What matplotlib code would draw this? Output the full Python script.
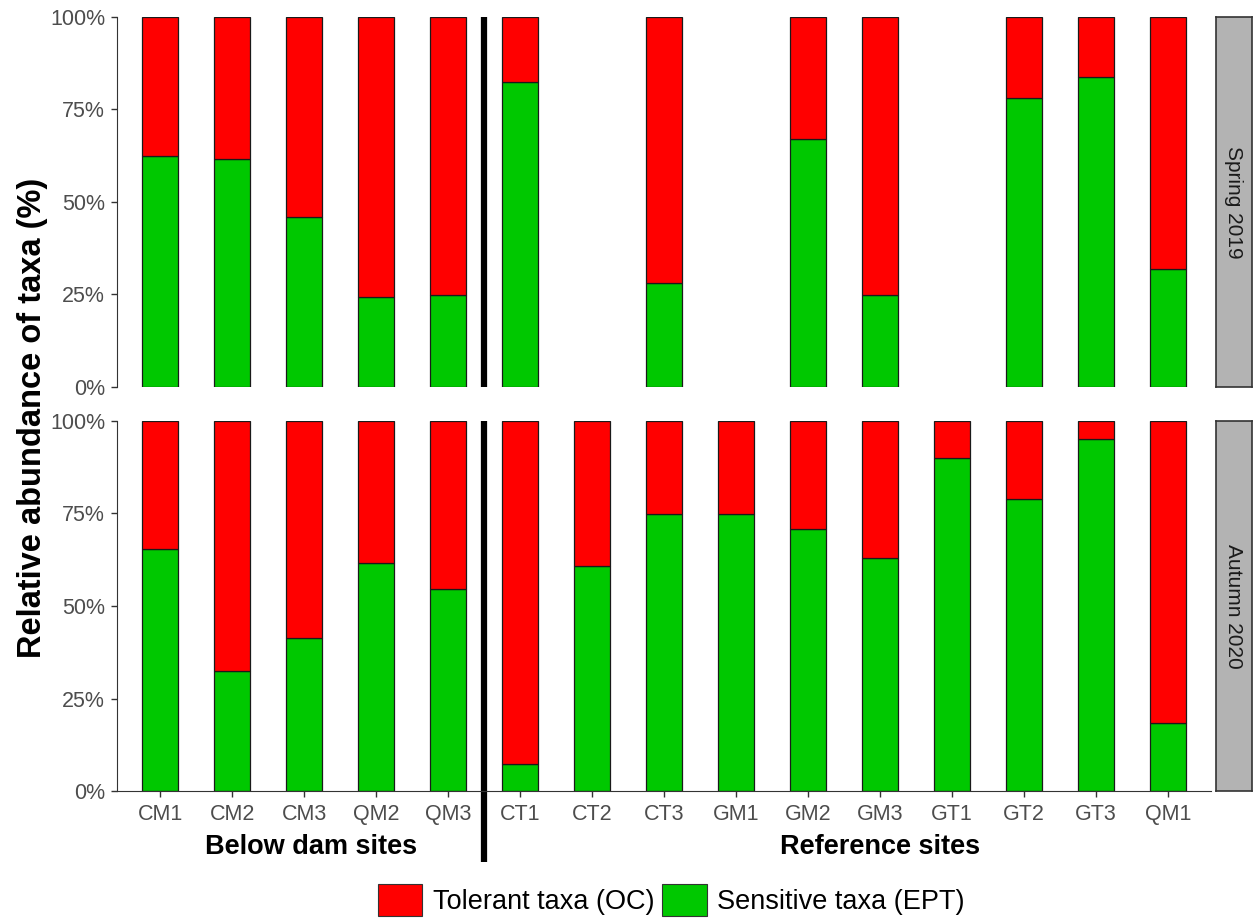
import numpy as np
import matplotlib.pyplot as plt
from matplotlib.patches import Patch

plt.rcParams['font.family'] = ['Liberation Sans', 'DejaVu Sans']

# Sites in plotting order
sites = ["CM1", "CM2", "CM3", "QM2", "QM3",
         "CT1", "CT2", "CT3", "GM1", "GM2", "GM3", "GT1", "GT2", "GT3", "QM1"]

# Share of sensitive taxa (EPT) per site; NaN = not sampled
ept_spring_2019 = [0.625, 0.615, 0.46, 0.244, 0.249,
                   0.825, np.nan, 0.28, np.nan, 0.669, 0.249, np.nan, 0.782, 0.837, 0.32]
ept_autumn_2020 = [0.654, 0.324, 0.413, 0.617, 0.547,
                   0.073, 0.608, 0.749, 0.749, 0.707, 0.631, 0.90, 0.79, 0.951, 0.183]

seasons = ["Spring 2019", "Autumn 2020"]
groups = ["Below dam sites", "Reference sites"]
group_pos = [3.1, 11]
legend_labels = ["Tolerant taxa (OC)", "Sensitive taxa (EPT)"]

red = "#FF0000"
green = "#00C800"
tick_grey = "#4D4D4D"

fig = plt.figure(figsize=(12.57, 9.24), dpi=100)

panel_rects = [[0.0931, 0.5812, 0.8703, 0.4004],
               [0.0931, 0.1439, 0.8703, 0.4005]]
strip_rects = [[0.9674, 0.5812, 0.0286, 0.4004],
               [0.9674, 0.1439, 0.0286, 0.4005]]

x = np.arange(1, len(sites) + 1)
for i, (season, ept) in enumerate(zip(seasons, [ept_spring_2019, ept_autumn_2020])):
    ax = fig.add_axes(panel_rects[i])
    ept = np.array(ept, dtype=float)
    ok = ~np.isnan(ept)
    ax.bar(x[ok], ept[ok], width=0.5, color=green, edgecolor="#1a1a1a", linewidth=0.9)
    ax.bar(x[ok], 1 - ept[ok], bottom=ept[ok], width=0.5, color=red,
           edgecolor="#1a1a1a", linewidth=0.9)

    ax.set_xlim(0.4, len(sites) + 0.6)
    ax.set_ylim(0, 1)
    ax.set_yticks([0, 0.25, 0.5, 0.75, 1.0])
    ax.set_yticklabels(["0%", "25%", "50%", "75%", "100%"])
    ax.tick_params(axis="y", labelsize=15.5, colors="#333333", labelcolor=tick_grey,
                   length=4.5, width=1, pad=4)
    for s in ["top", "right"]:
        ax.spines[s].set_visible(False)
    ax.spines["left"].set_color("#333333")
    ax.spines["bottom"].set_color("#333333")

    if i == 0:
        ax.spines["bottom"].set_visible(False)
        ax.set_xticks([])
        ax.plot([5.5, 5.5], [0, 1], color="black", lw=4.5, solid_capstyle="butt")
    else:
        ax.set_xticks(x)
        ax.set_xticklabels(sites)
        ax.tick_params(axis="x", labelsize=15.5, colors="#333333", labelcolor=tick_grey,
                       length=4.5, width=1, pad=5)
        # separator between below-dam and reference sites, running under the labels
        ax.plot([5.5, 5.5], [-0.192, 1], color="black", lw=4.5,
                solid_capstyle="butt", clip_on=False)
        for label, pos in zip(groups, group_pos):
            ax.text(pos, -0.15, label, ha="center", va="center",
                    fontsize=19.5, fontweight="bold")

    # facet strip
    sax = fig.add_axes(strip_rects[i])
    sax.set_facecolor("#B3B3B3")
    sax.set_xticks([])
    sax.set_yticks([])
    for s in sax.spines.values():
        s.set_color("#333333")
        s.set_linewidth(1.2)
    sax.text(0.5, 0.5, season, rotation=-90, ha="center", va="center",
             fontsize=15, color="#1a1a1a", transform=sax.transAxes)

fig.text(0.026, 0.548, "Relative abundance of taxa (%)", rotation=90,
         ha="center", va="center", fontsize=23.5, fontweight="bold")

handles = [Patch(facecolor=red, edgecolor="#333333", linewidth=0.8),
           Patch(facecolor=green, edgecolor="#333333", linewidth=0.8)]
fig.legend(handles, legend_labels, loc="center", bbox_to_anchor=(0.534, 0.026),
           ncol=2, frameon=False, fontsize=19.5, handlelength=1.65, handleheight=1.45,
           handletextpad=0.38, columnspacing=0.3)

fig.savefig("out.png", dpi=100)
